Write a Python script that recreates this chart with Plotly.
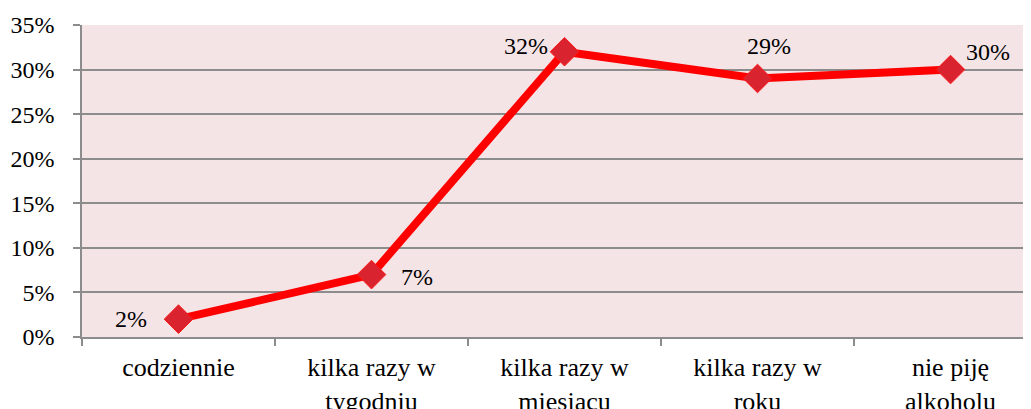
import plotly.graph_objects as go

categories = ["codziennie", "kilka razy w<br>tygodniu", "kilka razy w<br>miesiącu",
              "kilka razy w<br>roku", "nie piję<br>alkoholu"]
values = [0.02, 0.07, 0.32, 0.29, 0.30]
labels = ["2%", "7%", "32%", "29%", "30%"]
# label offsets from the point, in pixels
label_dx = [-48, 45, -39, 11, 37]
label_dy = [0, -2, 6, 32, 18]

serif = dict(family="Times New Roman", size=24, color="#000000")
cat_font = dict(family="Times New Roman", size=26, color="#000000")
x = list(range(len(categories)))

fig = go.Figure()
fig.add_trace(go.Scatter(
    x=x,
    y=values,
    mode='lines+markers',
    line=dict(color='#ff0000', width=8),
    marker=dict(symbol='diamond', size=22, color='#d9232e',
                line=dict(color='#ff1a1a', width=1)),
    cliponaxis=False,
    showlegend=False
))

for xi, v, t, dx, dy in zip(x, values, labels, label_dx, label_dy):
    fig.add_annotation(x=xi, y=v, text=t, showarrow=False,
                       xshift=dx, yshift=dy, font=serif)

# page body has an 8px margin, so the figure is a bit smaller than the window
fig.update_layout(
    width=1023,
    height=401,
    margin=dict(l=74, r=0, t=17, b=72),
    paper_bgcolor='white',
    plot_bgcolor='#f5e4e6',
)

fig.update_xaxes(
    range=[-0.5, 4.417],
    tickvals=x,
    ticktext=categories,
    tickfont=cat_font,
    ticks='',
    ticklabelstandoff=6,
    automargin=False,
    showgrid=False,
    zeroline=False,
    showline=True,
    linecolor='#8c8c8c',
    linewidth=1.5,
    minor=dict(tickvals=[-0.5, 0.5, 1.5, 2.5, 3.5], ticks='outside',
               ticklen=7, tickcolor='#8c8c8c', tickwidth=1.5, showgrid=False),
)
fig.update_yaxes(
    range=[0, 0.35],
    dtick=0.05,
    tickformat='.0%',
    tickfont=serif,
    ticks='outside',
    ticklen=7,
    tickcolor='#8c8c8c',
    tickwidth=1.5,
    automargin=False,
    showgrid=True,
    gridcolor='#8c8c8c',
    gridwidth=1.5,
    zeroline=False,
    showline=True,
    linecolor='#8c8c8c',
    linewidth=1.5,
    ticklabelstandoff=14,
)

fig.write_html("out.html")
